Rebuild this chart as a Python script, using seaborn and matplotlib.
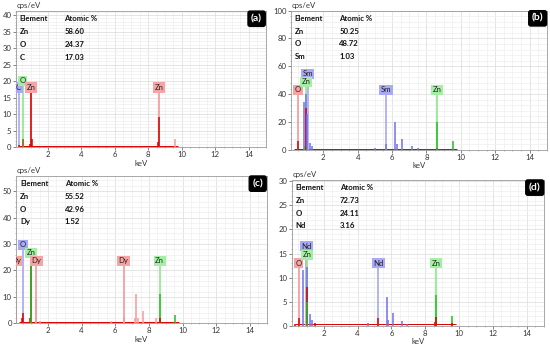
import matplotlib
matplotlib.use("Agg")
import matplotlib.pyplot as plt
import seaborn as sns
from matplotlib.ticker import MultipleLocator

# --- data ---
# (a) undoped
a_mark_el = ["C", "O", "Zn", "Zn"]
a_mark_kev = [0.277, 0.525, 1.012, 8.63]
a_mark_top = [17.0, 19.1, 17.0, 17.0]
a_mark_col = ["blue", "green", "red", "red"]
a_peak_kev = [0.277, 0.525, 0.93, 1.012, 1.09, 8.57, 8.63, 9.57]
a_peak_cps = [0.5, 2.5, 1.0, 17.0, 2.5, 1.5, 9.0, 2.5]
a_peak_col = ["red", "brown", "red", "red", "red", "red", "red", "pink"]
a_table_el = ["Zn", "O", "C"]
a_table_pct = ["58.60", "24.37", "17.03"]

# (b) Sm doped
b_mark_el = ["O", "Sm", "Zn", "Sm", "Zn"]
b_mark_kev = [0.525, 1.08, 1.012, 5.64, 8.63]
b_mark_top = [40.6, 52.0, 46.3, 40.6, 40.6]
b_mark_col = ["red", "blue", "green", "blue", "green"]
b_peak_kev = [0.525, 0.88, 0.95, 1.0, 1.0, 1.06, 1.25, 1.35, 4.99, 5.64,
              6.2, 6.3, 6.59, 7.15, 7.5, 8.6, 8.63, 9.57]
b_peak_cps = [6.0, 34.0, 3.0, 40.0, 30.0, 26.0, 5.0, 3.0, 1.5, 4.0,
              20.0, 4.0, 8.0, 3.0, 1.0, 1.5, 20.0, 6.0]
b_peak_col = ["red", "blue", "green", "blue", "red", "blue", "blue", "blue", "blue", "blue",
              "blue", "blue", "blue", "blue", "blue", "red", "green", "green"]
b_table_el = ["Zn", "O", "Sm"]
b_table_pct = ["50.25", "48.72", "1.03"]

# (c) Dy doped
c_mark_el = ["Dy", "O", "Zn", "Dy", "Dy", "Zn"]
c_mark_kev = [0.1, 0.525, 1.012, 1.293, 6.495, 8.63]
c_mark_top = [22.3, 28.3, 25.4, 22.3, 22.3, 22.3]
c_mark_col = ["red", "blue", "green", "red", "red", "green"]
c_peak_kev = [0.45, 0.525, 0.93, 1.0, 1.012, 1.29, 1.5, 5.75, 6.5, 7.2,
              7.25, 7.35, 7.64, 8.4, 8.63, 8.63, 9.57]
c_peak_cps = [2.0, 4.0, 2.0, 22.0, 22.0, 9.0, 1.0, 1.0, 2.5, 2.0,
              11.0, 2.0, 4.5, 2.0, 11.0, 2.0, 3.0]
c_peak_col = ["red", "red", "red", "red", "green", "pink", "pink", "pink", "pink", "pink",
              "pink", "pink", "pink", "pink", "green", "red", "green"]
c_table_el = ["Zn", "O", "Dy"]
c_table_pct = ["55.52", "42.96", "1.52"]

# (d) Nd doped
d_mark_el = ["O", "Nd", "Zn", "Nd", "Zn"]
d_mark_kev = [0.525, 0.978, 1.012, 5.23, 8.63]
d_mark_top = [12.3, 15.8, 14.0, 12.3, 12.3]
d_mark_col = ["red", "blue", "green", "blue", "green"]
d_peak_kev = [0.3, 0.525, 0.8, 1.0, 1.0, 1.01, 1.2, 1.3, 1.5, 4.63, 5.23,
              5.72, 5.82, 6.09, 6.6, 6.9, 8.55, 8.63, 8.63, 9.57, 9.57]
d_peak_cps = [0.4, 1.5, 11.5, 12.3, 8.0, 5.0, 2.5, 1.2, 0.5, 0.5, 1.5,
              6.0, 1.2, 2.7, 1.0, 0.3, 0.8, 6.3, 1.8, 2.0, 0.5]
d_peak_col = ["red", "red", "blue", "blue", "red", "green", "blue", "blue", "red", "blue", "red",
              "blue", "blue", "blue", "blue", "blue", "red", "green", "red", "green", "red"]
d_table_el = ["Zn", "O", "Nd"]
d_table_pct = ["72.73", "24.11", "3.16"]

panel_tags = ["(a)", "(b)", "(c)", "(d)"]
panel_ymax = [41.2, 100, 55.7, 30.3]
panel_ystep = [5, 20, 10, 5]
panel_bg = [0.35, 0.5, 0.4, 0.3]

LINE = {"red": "#f29a9a", "green": "#8ee88e", "blue": "#a8a8f4"}
BOX = {"red": "#f5a3a3", "green": "#a3f0a3", "blue": "#a9a9f5"}
PEAK = {"red": "#d90000", "pink": "#f59a9a", "green": "#22c022",
        "blue": "#7070ee", "brown": "#9a5a00"}

sns.set_theme(style="white")
plt.rcParams['font.family'] = ['Lato', 'DejaVu Sans']

fig = plt.figure(figsize=(5.5, 3.47), dpi=100)
rects = [[0.0285, 0.576, 0.4545, 0.392],
         [0.5285, 0.5686, 0.4655, 0.4006],
         [0.029, 0.0683, 0.456, 0.4245],
         [0.530, 0.0614, 0.4587, 0.42]]

panels = [
    (a_mark_el, a_mark_kev, a_mark_top, a_mark_col, a_peak_kev, a_peak_cps, a_peak_col, a_table_el, a_table_pct),
    (b_mark_el, b_mark_kev, b_mark_top, b_mark_col, b_peak_kev, b_peak_cps, b_peak_col, b_table_el, b_table_pct),
    (c_mark_el, c_mark_kev, c_mark_top, c_mark_col, c_peak_kev, c_peak_cps, c_peak_col, c_table_el, c_table_pct),
    (d_mark_el, d_mark_kev, d_mark_top, d_mark_col, d_peak_kev, d_peak_cps, d_peak_col, d_table_el, d_table_pct),
]

FS = 5.6

for i, (mk_el, mk_kev, mk_top, mk_col, pk_kev, pk_cps, pk_col, tb_el, tb_pct) in enumerate(panels):
    ax = fig.add_axes(rects[i])
    ax.set_xlim(0.1, 15)
    ax.set_ylim(0, panel_ymax[i])
    ax.xaxis.set_major_locator(MultipleLocator(2))
    ax.xaxis.set_minor_locator(MultipleLocator(0.5))
    ax.yaxis.set_major_locator(MultipleLocator(panel_ystep[i]))
    ax.yaxis.set_minor_locator(MultipleLocator(panel_ystep[i] / 5))
    ax.grid(which='major', color='#dadada', lw=0.5)
    ax.grid(which='minor', color='#eeeeee', lw=0.5)
    ax.set_axisbelow(True)

    # background continuum
    ax.hlines(panel_bg[i], 0.3, 9.8, color=PEAK["red"], lw=0.7, zorder=2)

    # element marker lines + labels
    ax.vlines(mk_kev, 0, mk_top, colors=[LINE[c] for c in mk_col], lw=1.2, zorder=2)
    for el, kev, top, col in zip(mk_el, mk_kev, mk_top, mk_col):
        ax.text(kev, top, el, ha='center', va='bottom', fontsize=FS, color='#222222',
                bbox=dict(boxstyle='square,pad=0.2', fc=BOX[col], ec='none'),
                clip_on=True, zorder=5)

    # spectrum peaks
    ax.vlines(pk_kev, 0, pk_cps, colors=[PEAK[c] for c in pk_col], lw=1.1, zorder=3)

    # composition table
    ax.annotate("Element", xy=(0, 1), xycoords='axes fraction', xytext=(3.0, -5.5),
                textcoords='offset points', fontsize=FS, fontweight='bold', va='center', color='#111111')
    ax.annotate("Atomic %", xy=(0, 1), xycoords='axes fraction', xytext=(35, -5.5),
                textcoords='offset points', fontsize=FS, fontweight='bold', va='center', color='#111111')
    for r, (el, pct) in enumerate(zip(tb_el, tb_pct)):
        yoff = -5.5 - 9.2 * (r + 1)
        ax.annotate(el, xy=(0, 1), xycoords='axes fraction', xytext=(3.0, yoff),
                    textcoords='offset points', fontsize=FS, fontweight='bold', va='center', color='#111111')
        ax.annotate(pct, xy=(0, 1), xycoords='axes fraction', xytext=(35, yoff),
                    textcoords='offset points', fontsize=FS, fontweight='bold', va='center', color='#111111')

    # panel tag
    ax.annotate(panel_tags[i], xy=(1, 1), xycoords='axes fraction', xytext=(-6.5, -5.5),
                textcoords='offset points', fontsize=7.5, fontweight='bold', color='white',
                ha='center', va='center',
                bbox=dict(boxstyle='round,pad=0.3,rounding_size=0.2', fc='black', ec='black'))

    ax.annotate("cps/eV", xy=(0, 1), xycoords='axes fraction', xytext=(0.5, 1.2),
                textcoords='offset points', fontsize=FS, color='#333333', va='bottom')
    ax.set_xlabel("keV", fontsize=FS, color='#333333', labelpad=1)
    ax.set_ylabel("")

    for s in ax.spines.values():
        s.set_color('#9a9a9a')
        s.set_linewidth(0.6)
    ax.tick_params(axis='both', which='major', labelsize=FS, colors='#555555', length=2,
                   width=0.5, pad=1, bottom=True, left=True)
    ax.tick_params(axis='both', which='minor', length=1, width=0.4, colors='#888888',
                   bottom=True, left=True)
    for lab in ax.get_xticklabels() + ax.get_yticklabels():
        lab.set_color('#333333')

fig.savefig("out.png", dpi=100)
